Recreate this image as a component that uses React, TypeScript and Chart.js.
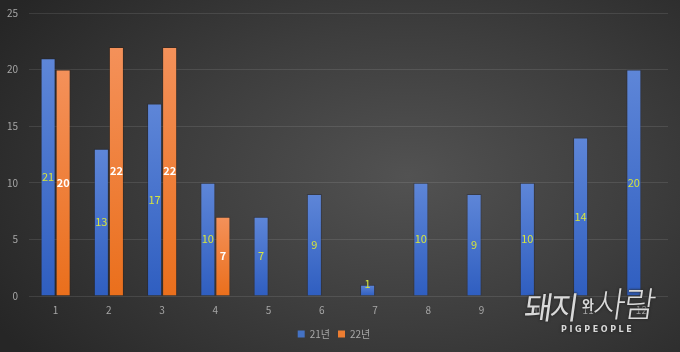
import React, { useEffect, useRef } from "react";
import { Chart, registerables } from "chart.js";

Chart.register(...registerables);

const categories = ["1", "2", "3", "4", "5", "6", "7", "8", "9", "10", "11", "12"];
const series21 = [21, 13, 17, 10, 7, 9, 1, 10, 9, 10, 14, 20];
const series22 = [20, 22, 22, 7, null, null, null, null, null, null, null, null];
const seriesNames = ["21년", "22년"];
const yMin = 0;
const yMax = 25;
const yStep = 5;

const FONT = "'Noto Sans CJK KR', 'Noto Sans', sans-serif";

function barGradient(context: any, top: string, bottom: string, fallback: string) {
  const chart = context.chart;
  const ys = chart.scales && chart.scales.y;
  if (!ys || context.raw == null || !chart.chartArea) return fallback;
  const y0 = ys.getPixelForValue(0);
  const y1 = ys.getPixelForValue(context.raw as number);
  if (!isFinite(y0) || !isFinite(y1) || Math.abs(y0 - y1) < 0.5) return fallback;
  const g = chart.ctx.createLinearGradient(0, y1, 0, y0);
  g.addColorStop(0, top);
  g.addColorStop(1, bottom);
  return g;
}

const labelPlugin = {
  id: "barLabels",
  afterDatasetsDraw(chart: any) {
    const ctx = chart.ctx;
    chart.data.datasets.forEach((ds: any, di: number) => {
      const meta = chart.getDatasetMeta(di);
      if (meta.hidden) return;
      meta.data.forEach((bar: any, i: number) => {
        const v = ds.data[i];
        if (v == null) return;
        const { x, y, base } = bar.getProps(["x", "y", "base"], true);
        let cy = (y + base) / 2;
        if (base - y < 16) cy = base - 12;
        ctx.save();
        ctx.textAlign = "center";
        ctx.textBaseline = "middle";
        if (di === 0) {
          ctx.font = `11px ${FONT}`;
          ctx.fillStyle = "#d6e43c";
        } else {
          ctx.font = `bold 11px ${FONT}`;
          ctx.fillStyle = "#ffffff";
        }
        ctx.fillText(String(v), x, cy);
        ctx.restore();
      });
    });
  },
};

export default function App() {
  const canvasRef = useRef<HTMLCanvasElement | null>(null);

  useEffect(() => {
    document.body.style.margin = "0";
    const canvas = canvasRef.current;
    if (!canvas) return;
    const chart = new Chart(canvas, {
      type: "bar",
      data: {
        labels: categories,
        datasets: [
          {
            label: seriesNames[0],
            data: series21,
            backgroundColor: (c: any) => barGradient(c, "#5e86d8", "#2f5ec0", "#4472c4"),
            borderColor: "rgba(20,30,60,0.35)",
            borderWidth: 1,
            categoryPercentage: 0.565,
            barPercentage: 1,
          },
          {
            label: seriesNames[1],
            data: series22,
            backgroundColor: (c: any) => barGradient(c, "#f4915a", "#ea6f1c", "#ed7d31"),
            borderColor: "rgba(60,30,10,0.35)",
            borderWidth: 1,
            categoryPercentage: 0.565,
            barPercentage: 1,
          },
        ],
      },
      options: {
        animation: false,
        responsive: false,
        maintainAspectRatio: false,
        layout: { padding: { top: 13, right: 12, bottom: 3, left: 0 } },
        plugins: {
          legend: {
            position: "bottom",
            labels: {
              color: "#a6a6a6",
              font: { size: 10, family: FONT },
              boxWidth: 7,
              boxHeight: 7,
              padding: 8,
              generateLabels: (ch: any) =>
                ch.data.datasets.map((ds: any, i: number) => ({
                  text: ds.label,
                  fillStyle: i === 0 ? "#4472c4" : "#ed7d31",
                  strokeStyle: "transparent",
                  lineWidth: 0,
                  fontColor: "#a6a6a6",
                  hidden: false,
                  datasetIndex: i,
                })),
            },
          },
          tooltip: { enabled: false },
        },
        scales: {
          x: {
            grid: { display: false, drawTicks: false },
            border: { display: false },
            ticks: { color: "#a6a6a6", font: { size: 10, family: FONT }, padding: 8 },
            afterFit: (s: any) => {
              s.height = 25;
            },
          },
          y: {
            min: yMin,
            max: yMax,
            grid: { color: "rgba(255,255,255,0.10)", lineWidth: 1, drawTicks: false },
            border: { display: false },
            ticks: {
              stepSize: yStep,
              color: "#a6a6a6",
              font: { size: 10, family: FONT },
              padding: 11,
            },
            afterFit: (s: any) => {
              s.width = 29;
              s.paddingTop = 0;
            },
          },
        },
      },
      plugins: [labelPlugin],
    });
    return () => chart.destroy();
  }, []);

  return (
    <div
      style={{
        position: "fixed",
        left: 0,
        top: 0,
        width: 680,
        height: 352,
        overflow: "hidden",
        background:
          "radial-gradient(ellipse 70% 85% at 60% 50%, #525252 0%, #3d3d3d 50%, #262626 100%)",
      }}
    >
      <canvas ref={canvasRef} width={680} height={352} style={{ display: "block" }} />
      <div
        style={{
          position: "absolute",
          left: 524,
          top: 280,
          width: 150,
          height: 60,
          color: "#d9d9d9",
          fontFamily: "'Noto Sans CJK KR', sans-serif",
          textShadow: "0 0 3px #2a2a2a, 0 0 2px #2a2a2a",
          pointerEvents: "none",
        }}
      >
        <span style={{ position: "absolute", left: 1, top: 3, fontSize: 31, fontWeight: 400, letterSpacing: -3, transform: "skewX(-8deg)" }}>돼지</span>
        <span style={{ position: "absolute", left: 58, top: 14, fontSize: 13, fontWeight: 700 }}>와</span>
        <span style={{ position: "absolute", left: 70, top: -4, fontSize: 35, fontWeight: 300, letterSpacing: -2, transform: "skewX(-8deg)" }}>사람</span>
        <span style={{ position: "absolute", left: 37, top: 45, fontSize: 8, fontWeight: 700, letterSpacing: 2.6, fontFamily: "'DejaVu Sans', sans-serif" }}>PIGPEOPLE</span>
      </div>
    </div>
  );
}
